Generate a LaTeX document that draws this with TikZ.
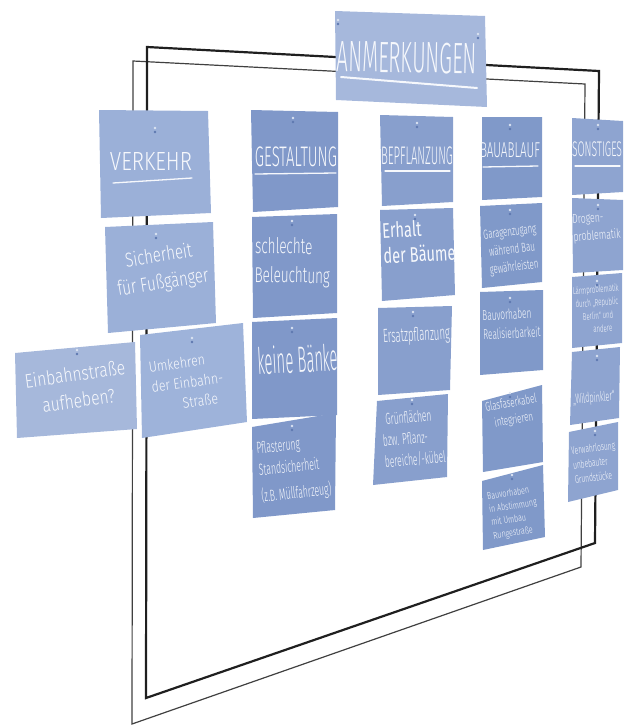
\documentclass[tikz,border=0pt]{standalone}
\usepackage{fontspec}
\newfontfamily\hand{Fira Sans Light}
\newfontfamily\handbold{Fira Sans}
\usetikzlibrary{calc}
\definecolor{cAnm}{HTML}{A6B8DC}
\definecolor{cVer}{HTML}{9BB0D8}
\definecolor{cEin}{HTML}{A6B8DB}
\definecolor{cUmk}{HTML}{9EB3DA}
\definecolor{cGes}{HTML}{8098C9}
\definecolor{cBep}{HTML}{889FCD}
\definecolor{cBau}{HTML}{8099C9}
\definecolor{cSon}{HTML}{8EA4D0}
\definecolor{pinlight}{HTML}{DCE4F2}
\definecolor{pindark}{HTML}{5E78B0}
\definecolor{chalk}{HTML}{F6F8FC}
\newcommand\card[6]{\fill[#2] (#3) coordinate (#1-a) -- (#4) coordinate (#1-b) -- (#5) coordinate (#1-c) -- (#6) coordinate (#1-d) -- cycle;}
\newcommand\hwl[3]{\resizebox*{#1pt}{#2pt}{\hand #3}}
\newcommand\hw[4]{\resizebox*{#1pt}{#2pt}{\hand\renewcommand\arraystretch{1.12}\begin{tabular}{@{}#3@{}}#4\end{tabular}}}
\newcommand\hwb[4]{\resizebox*{#1pt}{#2pt}{\handbold\begin{tabular}{@{}#3@{}}#4\end{tabular}}}
\newcommand\pin[2]{\fill[pinlight] (#1,#2) circle[radius=1.3pt]; \fill[pindark] (#1,#2+4) circle[radius=1.3pt];}
\tikzset{
  thickframe/.style={draw=black!88, line width=2.2pt, line join=miter},
  thinframe/.style={draw=black!75, line width=1.2pt, line join=miter},
  hwtext/.style={inner sep=0pt, text=chalk},
  uline/.style={draw=chalk, line width=1.3pt, line cap=round},
}
\begin{document}
\begin{tikzpicture}[x=1pt,y=-1pt]
\useasboundingbox (0,0) rectangle (629,726);
% frames
\draw[thinframe] (133,61) coordinate (f2a) -- (585,84) coordinate (f2b) -- (581,567) coordinate (f2c) -- (132,724) coordinate (f2d) -- cycle;
\draw[thickframe] (147,47) coordinate (f1a) -- (599,71) coordinate (f1b) -- (595,543) coordinate (f1c) -- (146,698) coordinate (f1d) -- cycle;

% ANMERKUNGEN
\card{anm}{cAnm}{335,11}{485,16}{487,107}{336,100}
\node[hwtext, rotate=-1] (tAnm) at (407,57.5) {\hwl{140}{31}{ANMERKUNGEN}};
\draw[uline, line width=2pt] (341,77) -- (477,88);
\pin{338}{20}\pin{478}{34}

% VERKEHR column
\card{ver}{cVer}{99,110}{208,111}{211,213}{101,218}
\node[hwtext] (tVer) at (151,161) {\hwl{82}{18}{VERKEHR}};
\draw[uline] (113,183) -- (192,178);
\pin{155}{128}
\card{sic}{cVer}{105,227}{213,222}{216,323}{108,333}
\node[hwtext, rotate=9] (tSic) at (161,270) {\hw{92}{54}{c}{Sicherheit\\für Fußgänger}};
\pin{156}{234}
\card{ein}{cEin}{15,353}{135,342}{137,429}{17,438}
\node[hwtext, rotate=8] (tEin) at (77,389) {\hw{101}{53}{c}{Einbahnstraße\\aufheben?}};
\pin{77}{350}
\card{umk}{cUmk}{140,335}{243,323}{247,422}{142,438}
\node[hwtext, rotate=8] (tUmk) at (187.5,383.5) {\hw{72}{60}{l}{Umkehren\\der Einbahn-\\\hspace*{2.3em}Straße}};
\pin{192}{338}

% GESTALTUNG column
\card{g1}{cGes}{251,110}{338,112}{338,207}{253,212}
\node[hwtext] (tGes) at (296,157) {\hwl{82}{20}{GESTALTUNG}};
\draw[uline] (255,174) -- (336,173);
\pin{293}{118}
\card{g2}{cGes}{252,217}{337,214}{337,313}{253,318}
\node[hwtext, rotate=-1] (tG2) at (292.5,262.5) {\hw{75}{58}{l}{schlechte\\Beleuchtung}};
\pin{292}{221}
\card{g3}{cGes}{252,322}{337,318}{337,415}{252,419}
\node[hwtext, rotate=3] (tG3) at (298,359) {\hwl{80}{28}{keine Bänke}};
\pin{292}{328}
\card{g4}{cGes}{252,427}{336,413}{335,510}{253,518}
\node[hwtext, rotate=6] (tG4) at (294,470) {\hw{70}{70}{l}{Pflasterung\\Standsicherheit\\[3pt](z.B. Müllfahrzeug)}};
\pin{292}{426}

% BEPFLANZUNG column
\card{b1}{cBep}{380,115}{453,117}{453,202}{382,206}
\node[hwtext] (tBep) at (417,156) {\hwl{72}{18}{BEPFLANZUNG}};
\draw[uline] (385,171) -- (450,171);
\pin{417}{123}
\card{b2}{cBep}{380,210}{453,208}{455,295}{382,301}
\node[hwtext, rotate=3] (tB2) at (419,244) {\hwb{72}{51}{l}{Erhalt\\der Bäume}};
\pin{415}{215}
\card{b3}{cBep}{378,308}{452,306}{450,390}{378,395}
\node[hwtext, rotate=3] (tB3) at (416.5,336) {\hwl{67}{18}{Ersatzpflanzung}};
\pin{413}{312}
\card{b4}{cBep}{377,401}{448,394}{447,477}{373,485}
\node[hwtext, rotate=5] (tB4) at (413.5,439.5) {\hw{61}{64}{l}{\hspace*{0.5em}Grünflächen\\bzw. Pflanz-\\bereiche/-kübel}};
\pin{412}{400}

% BAUABLAUF column
\card{c1}{cBau}{482,117}{542,117}{542,197}{482,200}
\node[hwtext] (tBau) at (510,150.5) {\hwl{60}{15}{BAUABLAUF}};
\draw[uline] (483,167) -- (538,166);
\pin{510}{125}
\card{c2}{cBau}{480,206}{542,203}{542,282}{482,288}
\node[hwtext, rotate=7] (tC2) at (512,250) {\hw{53}{53}{c}{Garagenzugang\\während Bau\\gewährleisten}};
\pin{510}{210}
\card{c3}{cBau}{480,292}{543,290}{543,370}{480,375}
\node[hwtext, rotate=3] (tC3) at (511.5,325) {\hw{57}{38}{l}{Bauvorhaben\\Realisierbarkeit}};
\pin{510}{298}
\card{c4}{cBau}{482,401}{542,385}{543,462}{483,472}
\node[hwtext, rotate=10] (tC4) at (512.5,412) {\hw{52}{34}{c}{Glasfaserkabel\\integrieren}};
\pin{510}{393}
\card{c5}{cBau}{482,481}{543,465}{545,537}{483,550}
\node[hwtext, rotate=9] (tC5) at (514,513) {\hw{48}{53}{l}{Bauvorhaben\\in Abstimmung\\mit Umbau\\Rungestraße}};
\pin{512}{475}

% SONSTIGES column
\card{s1}{cSon}{572,118}{623,121}{623,192}{572,195}
\node[hwtext] (tSon) at (597,149) {\hwl{50}{15}{SONSTIGES}};
\draw[uline] (575,166) -- (620,166);
\pin{598}{125}
\card{s2}{cSon}{572,198}{623,200}{623,270}{573,273}
\node[hwtext, rotate=4] (tS2) at (596.5,227.5) {\hw{47}{35}{l}{Drogen-\\problematik}};
\pin{598}{205}
\card{s3}{cSon}{572,277}{622,273}{622,343}{572,348}
\node[hwtext, rotate=5] (tS3) at (597.5,310) {\hw{46}{53}{c}{Lärmproblematik\\durch „Republic\\Berlin“ und\\\hspace*{1.2em}andere}};
\pin{597}{281}
\card{s4}{cSon}{572,352}{620,347}{619,418}{570,425}
\node[hwtext, rotate=5] (tS4) at (594,398.5) {\hwl{42}{13}{„Wildpinkler“}};
\pin{597}{356}
\card{s5}{cSon}{569,432}{618,422}{618,490}{568,502}
\node[hwtext, rotate=7] (tS5) at (595,463.5) {\hw{44}{44}{l}{Verwahrlosung\\unbebauter\\Grundstücke}};
\pin{595}{431}
\end{tikzpicture}
\end{document}
